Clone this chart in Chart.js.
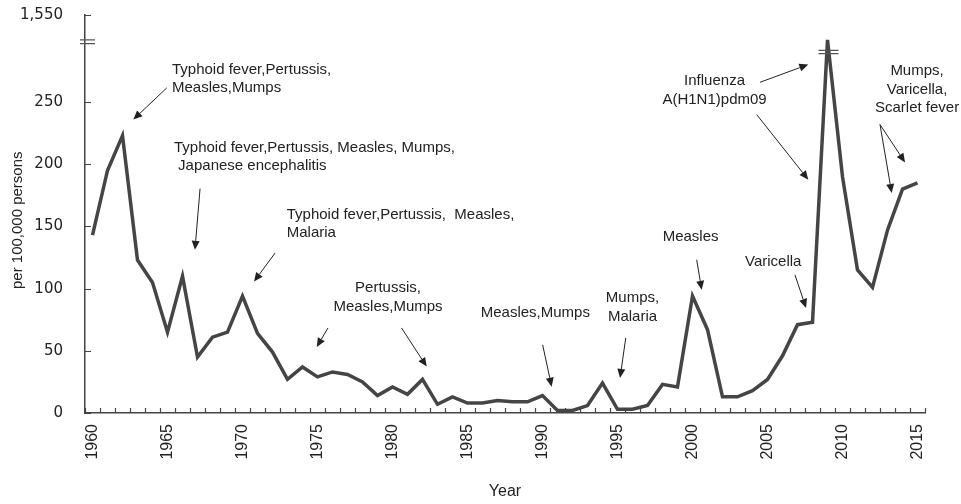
<!DOCTYPE html>
<html>
<head>
<meta charset="utf-8">
<script src="https://cdn.jsdelivr.net/npm/chart.js@4.4.1/dist/chart.umd.min.js"></script>
<style>
  html, body { margin: 0; padding: 0; background: #fff; }
</style>
</head>
<body>
<canvas id="chart" width="961" height="504"></canvas>
<script>
const years = [
  "1960", "1961", "1962", "1963", "1964", "1965", "1966", "1967", "1968", "1969",
  "1970", "1971", "1972", "1973", "1974", "1975", "1976", "1977", "1978", "1979",
  "1980", "1981", "1982", "1983", "1984", "1985", "1986", "1987", "1988", "1989",
  "1990", "1991", "1992", "1993", "1994", "1995", "1996", "1997", "1998", "1999",
  "2000", "2001", "2002", "2003", "2004", "2005", "2006", "2007", "2008", "2009",
  "2010", "2011", "2012", "2013", "2014", "2015"
];

// per 100,000 persons; 2009 is drawn on the broken part of the axis
const rates = [
  143, 195, 223, 123, 105, 65, 110, 45, 61, 65,
  94, 64, 49, 27, 37, 29, 33, 31, 25, 14,
  21, 15, 27, 7, 13, 8, 8, 10, 9, 9,
  14, 2, 2, 6, 24, 3, 3, 6, 23, 21,
  94, 67, 13, 13, 18, 27, 46, 71, 73, 300,
  190, 115, 101, 147, 180, 185
];

const xTickLabels = ["1960", "1965", "1970", "1975", "1980", "1985", "1990", "1995", "2000", "2005", "2010", "2015"];
const yTickValues = [0, 50, 100, 150, 200, 250, 320];
const yTickLabels = ["0", "50", "100", "150", "200", "250", "1,550"];

const axisBreak = [300, 297];
const lineBreak = [291.5, 289];
const breakYear = "2009";

// text anchors and arrows in [year, value] units
const notes = [
  { lines: ["Typhoid fever,Pertussis,", "Measles,Mumps"], at: [1965.3, 276], align: "left",
    arrows: [[1964.95, 261.4, 1962.72, 235.9]] },
  { lines: ["Typhoid fever,Pertussis, Measles, Mumps,", " Japanese encephalitis"], at: [1965.43, 213.4], align: "left",
    arrows: [[1967.17, 180.4, 1966.83, 131.2]] },
  { lines: ["Typhoid fever,Pertussis,  Measles,", "Malaria"], at: [1972.95, 159.4], align: "left",
    arrows: [[1972.17, 128.6, 1970.77, 105.7]] },
  { lines: ["Pertussis,", "Measles,Mumps"], at: [1979.7, 100.4], align: "center",
    arrows: [[1975.7, 68.4, 1974.95, 53.1], [1980.6, 68.4, 1982.28, 37.3]] },
  { lines: ["Measles,Mumps"], at: [1985.88, 80.3], align: "left",
    arrows: [[1990.01, 54.8, 1990.61, 21.2]] },
  { lines: ["Mumps,", "Malaria"], at: [1996, 92.4], align: "center",
    arrows: [[1995.55, 60.4, 1995.17, 28.2]] },
  { lines: ["Measles"], at: [1998.01, 142], align: "left",
    arrows: [[2000.28, 123.2, 2000.61, 99.0]] },
  { lines: ["Varicella"], at: [2003.5, 121.8], align: "left",
    arrows: [[2006.83, 111.1, 2007.57, 84.5]] },
  { lines: ["Influenza", "A(H1N1)pdm09"], at: [2001.47, 266.7], align: "center",
    arrows: [[2004.5, 265.9, 2007.72, 280.2], [2004.28, 239.9, 2007.72, 187.6]] },
  { lines: ["Mumps,", "Varicella,", "Scarlet fever"], at: [2014.97, 274.8], align: "center",
    arrows: [[2012.5, 231.9, 2014.17, 201.5], [2012.5, 231.9, 2013.28, 176.9]] }
];

const ink = "#222";
const lineColor = "#454545";

function drawArrow(ctx, x1, y1, x2, y2) {
  const a = Math.atan2(y2 - y1, x2 - x1);
  const len = 9;
  const w = 4;
  const bx = x2 - Math.cos(a) * len;
  const by = y2 - Math.sin(a) * len;
  ctx.beginPath();
  ctx.moveTo(x1, y1);
  ctx.lineTo(bx, by);
  ctx.stroke();
  ctx.beginPath();
  ctx.moveTo(x2, y2);
  ctx.lineTo(bx + w * Math.sin(a), by - w * Math.cos(a));
  ctx.lineTo(bx - w * Math.sin(a), by + w * Math.cos(a));
  ctx.closePath();
  ctx.fill();
}

const decor = {
  id: "decor",
  afterDatasetsDraw(chart) {
    const { ctx, chartArea, scales: { x, y } } = chart;
    const px = (year) => x.getPixelForValue(year - Number(years[0]));

    ctx.save();

    // inward tick marks
    ctx.strokeStyle = "#444";
    ctx.lineWidth = 1.2;
    const step = x.getPixelForValue(1) - x.getPixelForValue(0);
    ctx.beginPath();
    for (let i = 0; i <= years.length; i++) {
      const tx = Math.round(x.getPixelForValue(i) - step / 2) + 0.5;
      ctx.moveTo(tx, chartArea.bottom);
      ctx.lineTo(tx, chartArea.bottom - 5);
    }
    y.ticks.forEach((t) => {
      const ty = Math.round(y.getPixelForValue(t.value)) + 0.5;
      ctx.moveTo(chartArea.left, ty);
      ctx.lineTo(chartArea.left + 6, ty);
    });
    ctx.stroke();

    // axis breaks
    ctx.strokeStyle = "#555";
    ctx.lineWidth = 1.3;
    ctx.beginPath();
    axisBreak.forEach((v) => {
      const by = y.getPixelForValue(v);
      ctx.moveTo(chartArea.left - 5, by);
      ctx.lineTo(chartArea.left + 10, by);
    });
    const bx = x.getPixelForValue(years.indexOf(breakYear));
    lineBreak.forEach((v) => {
      const by = y.getPixelForValue(v);
      ctx.moveTo(bx - 9, by);
      ctx.lineTo(bx + 11, by);
    });
    ctx.stroke();

    // annotations
    ctx.fillStyle = ink;
    ctx.strokeStyle = ink;
    ctx.lineWidth = 1;
    ctx.font = '15px "Liberation Sans"';
    ctx.textBaseline = "middle";
    notes.forEach((note) => {
      ctx.textAlign = note.align;
      const nx = px(note.at[0]);
      const ny = y.getPixelForValue(note.at[1]);
      note.lines.forEach((line, i) => ctx.fillText(line, nx, ny + i * 18.5));
      note.arrows.forEach(([x1, v1, x2, v2]) => {
        drawArrow(ctx, px(x1), y.getPixelForValue(v1), px(x2), y.getPixelForValue(v2));
      });
    });

    ctx.restore();
  }
};

Chart.defaults.font.family = '"Liberation Sans", Arial, sans-serif';

new Chart(document.getElementById("chart"), {
  type: "line",
  data: {
    labels: years,
    datasets: [{
      data: rates,
      borderColor: lineColor,
      borderWidth: 3.5,
      pointRadius: 0,
      tension: 0,
      fill: false
    }]
  },
  options: {
    responsive: false,
    animation: false,
    devicePixelRatio: 1,
    layout: { padding: { top: 15, right: 36, bottom: 0, left: 0 } },
    plugins: {
      legend: { display: false },
      tooltip: { enabled: false }
    },
    scales: {
      x: {
        type: "category",
        offset: true,
        // grid hidden; tickLength only spaces the labels (ticks are drawn inward by the plugin)
        grid: { display: false, drawTicks: true, tickLength: 11, offset: true },
        border: { display: true, color: "#444", width: 1.5 },
        ticks: {
          autoSkip: false,
          minRotation: 90,
          maxRotation: 90,
          padding: 0,
          color: ink,
          font: { size: 16 },
          callback(value) {
            const label = this.getLabelForValue(value);
            return xTickLabels.includes(label) ? label : "";
          }
        },
        title: {
          display: true,
          text: "Year",
          color: ink,
          font: { size: 16 },
          padding: { top: 4, bottom: 3 }
        },
        afterFit(scale) {
          scale.height = 91;
        }
      },
      y: {
        min: 0,
        max: 320,
        grid: { display: false, drawTicks: true, tickLength: 22 },
        border: { display: true, color: "#444", width: 1.5 },
        afterBuildTicks(scale) {
          scale.ticks = yTickValues.map((v) => ({ value: v }));
        },
        ticks: {
          padding: 0,
          color: ink,
          font: { family: '"DejaVu Sans"', size: 15 },
          callback(value) {
            const i = yTickValues.indexOf(value);
            return i >= 0 ? yTickLabels[i] : "";
          }
        },
        title: {
          display: true,
          text: "per 100,000 persons\u00a0\u00a0\u00a0",
          color: ink,
          font: { size: 15 },
          padding: { top: 9, bottom: 0 }
        },
        afterFit(scale) {
          scale.width = 85;
        }
      }
    }
  },
  plugins: [decor]
});
</script>
</body>
</html>
